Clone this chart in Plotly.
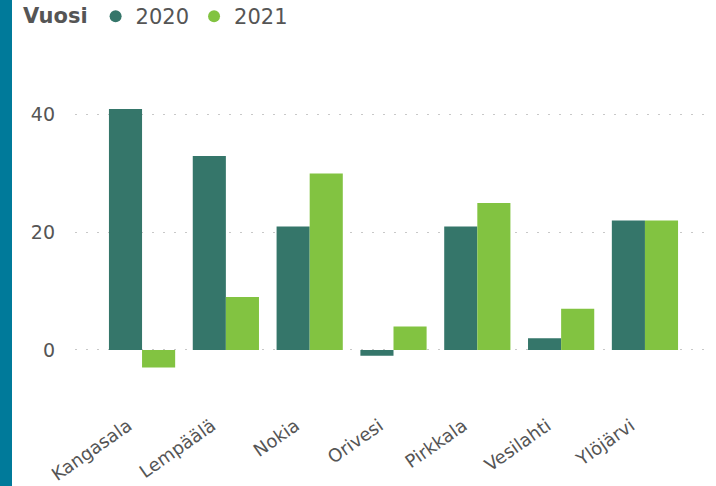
import plotly.graph_objects as go

categories = ["Kangasala", "Lempäälä", "Nokia", "Orivesi", "Pirkkala", "Vesilahti", "Ylöjärvi"]
series_names = ["2020", "2021"]
values_2020 = [41, 33, 21, -1, 21, 2, 22]
values_2021 = [-3, 9, 30, 4, 25, 7, 22]
colors = ["#35766A", "#82C341"]

W, H = 716, 486
ml, mr, mt, mb = 75, 4, 56, 79
pw = W - ml - mr
ph = H - mt - mb
FONT = "DejaVu Sans"
TXT = "#555555"

fig = go.Figure()
for name, vals, col in zip(series_names, [values_2020, values_2021], colors):
    fig.add_trace(go.Bar(x=categories, y=vals, name=name, marker_color=col,
                         marker_line_width=0, showlegend=False))
for name, col in zip(series_names, colors):
    fig.add_trace(go.Scatter(x=[None], y=[None], mode="markers", name=name,
                             marker=dict(symbol="circle", size=17, color=col)))

fig.update_layout(
    width=W, height=H,
    margin=dict(l=ml, r=mr, t=mt, b=mb, autoexpand=False),
    plot_bgcolor="white", paper_bgcolor="white",
    barmode="group", bargap=0.21, bargroupgap=0,
    font=dict(family=FONT, color=TXT, size=18),
    legend=dict(orientation="h", xref="paper", yref="paper",
                x=(21 - ml) / pw, xanchor="left", y=1 + (mt + 4) / ph, yanchor="top",
                title=dict(text="<b>Vuosi</b>", font=dict(size=21, color=TXT, family=FONT)),
                font=dict(size=21, color=TXT, family=FONT),
                itemwidth=30, tracegroupgap=0, itemsizing="constant"),
    xaxis=dict(range=[-0.8, 6.8], showgrid=False, showline=False, zeroline=False,
               tickangle=-35, ticks="", automargin=False,
               ticklabelshift=-14, ticklabelstandoff=4,
               tickfont=dict(size=18, color=TXT, family=FONT)),
    yaxis=dict(range=[-9.7, 50], tickvals=[0, 20, 40], showgrid=True,
               gridcolor="#c8c8c8", griddash="2px,9px", gridwidth=1.3,
               zeroline=False, showline=False, ticklabelstandoff=19, automargin=False,
               tickfont=dict(size=19, color=TXT, family=FONT)),
    shapes=[dict(type="rect", xref="paper", yref="paper",
                 x0=-ml / pw, x1=(12 - ml) / pw,
                 y0=-mb / ph, y1=1 + mt / ph,
                 fillcolor="#007A9A", line_width=0, layer="below")],
)

fig.write_html("out.html", config={"displayModeBar": False},
               post_script="document.body.style.margin='0';")
